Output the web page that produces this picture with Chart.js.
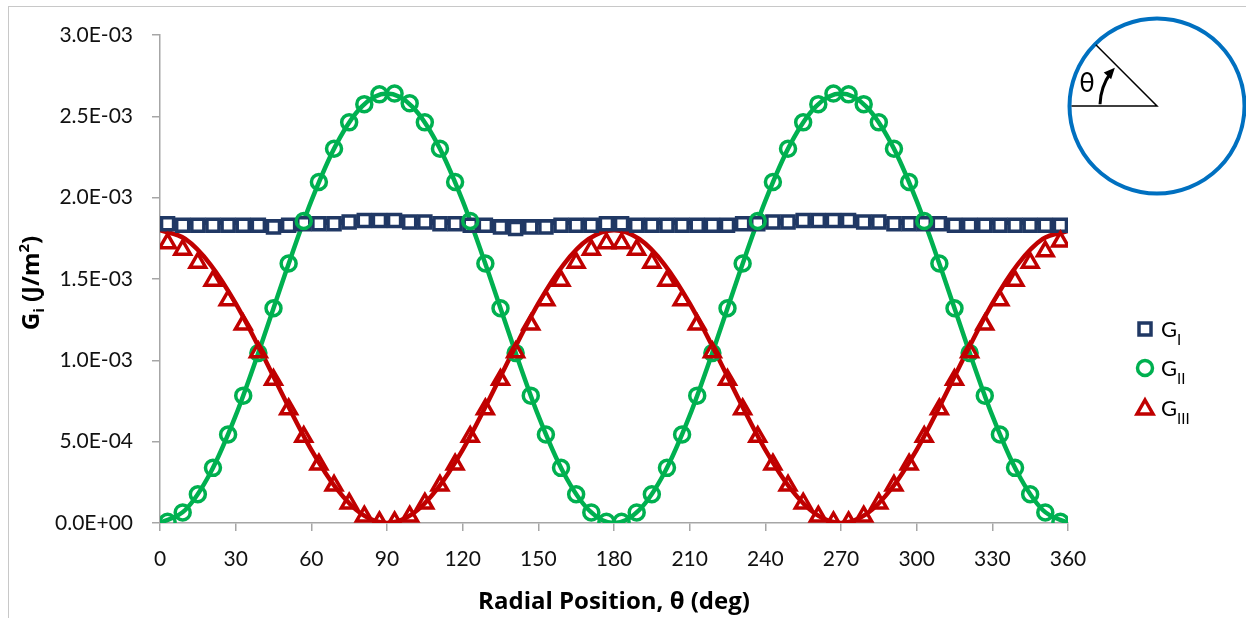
<!DOCTYPE html>
<html>
<head>
<meta charset="utf-8">
<script src="https://cdn.jsdelivr.net/npm/chart.js@4.4.1/dist/chart.umd.min.js"></script>
<style>
  html, body { margin: 0; padding: 0; background: #fff; }
  #wrap { position: relative; width: 1246px; height: 618px; }
</style>
</head>
<body>
<div id="wrap"><canvas id="chartG" width="1246" height="618"></canvas></div>
<script>
// values in units of 1E-03 J/m2
const markerAngles = [3,9,15,21,27,33,39,45,51,57,63,69,75,81,87,93,99,105,111,117,123,129,135,141,147,153,159,165,171,177,
  183,189,195,201,207,213,219,225,231,237,243,249,255,261,267,273,279,285,291,297,303,309,315,321,327,333,339,345,351,357];

const gI = [1.84,1.83,1.83,1.83,1.83,1.83,1.83,1.82,1.83,1.84,1.84,1.84,1.85,1.86,1.86,1.86,1.85,1.85,1.84,1.84,1.83,1.83,1.82,1.81,1.82,1.82,1.83,1.83,1.83,1.84,
  1.84,1.83,1.83,1.83,1.83,1.83,1.83,1.83,1.84,1.84,1.85,1.85,1.86,1.86,1.86,1.86,1.85,1.85,1.84,1.84,1.84,1.84,1.83,1.83,1.83,1.83,1.83,1.83,1.83,1.83];

const gII = [0.007,0.065,0.177,0.339,0.544,0.783,1.045,1.320,1.595,1.857,2.096,2.301,2.463,2.575,2.635,2.640,2.580,2.463,2.301,2.096,1.857,1.595,1.320,1.045,0.783,0.544,0.339,0.177,0.065,0.007,
  0.007,0.065,0.177,0.339,0.544,0.783,1.045,1.320,1.595,1.857,2.096,2.301,2.463,2.575,2.640,2.635,2.575,2.463,2.301,2.096,1.857,1.595,1.320,1.045,0.783,0.544,0.339,0.177,0.065,0.007];

const gIII = [1.72,1.68,1.60,1.49,1.37,1.22,1.05,0.88,0.70,0.53,0.36,0.23,0.12,0.04,0.005,0.005,0.04,0.12,0.23,0.36,0.53,0.70,0.88,1.05,1.22,1.37,1.49,1.60,1.68,1.72,
  1.72,1.68,1.60,1.49,1.37,1.22,1.05,0.88,0.70,0.53,0.36,0.23,0.12,0.04,0.005,0.005,0.04,0.12,0.23,0.36,0.53,0.70,0.88,1.05,1.22,1.37,1.49,1.60,1.67,1.73];

// fitted curves
const curveAngles = [0,10,20,30,40,50,60,70,80,90,100,110,120,130,140,150,160,170,180,
  190,200,210,220,230,240,250,260,270,280,290,300,310,320,330,340,350,360];
const gIICurve = [0,0.080,0.309,0.660,1.091,1.549,1.980,2.331,2.560,2.640,2.560,2.331,1.980,1.549,1.091,0.660,0.309,0.080,0,
  0.080,0.309,0.660,1.091,1.549,1.980,2.331,2.560,2.640,2.560,2.331,1.980,1.549,1.091,0.660,0.309,0.080,0];
const gIIICurve = [1.800,1.746,1.589,1.350,1.056,0.744,0.450,0.211,0.054,0,0.054,0.211,0.450,0.744,1.056,1.350,1.589,1.746,1.800,
  1.746,1.589,1.350,1.056,0.744,0.450,0.211,0.054,0,0.054,0.211,0.450,0.744,1.056,1.350,1.589,1.746,1.795];
const gILineAngles = [0, 360];
const gILine = [1.85, 1.85];

const NAVY = '#203864', GREEN = '#00B050', RED = '#C00000', AXIS = '#A6A6A6';
const FONT = 'Lato, "Open Sans", sans-serif';
const TITLE_FONT = '"Open Sans", Lato, sans-serif';
Chart.defaults.font.family = FONT;

const pts = (xs, ys) => xs.map((x, i) => ({ x: x, y: ys[i] }));

function sciLabel(v) {
  if (Math.abs(v) < 1e-9) return '0.0E+00';
  const parts = (v * 1e-3).toExponential(1).split('e');
  const e = parseInt(parts[1], 10);
  return parts[0] + 'E' + (e < 0 ? '-' : '+') + String(Math.abs(e)).padStart(2, '0');
}

// text with sub/superscript pieces: [text, size, dy]
function drawPieces(ctx, pieces, x, y, weight, align, family) {
  let total = 0;
  pieces.forEach(p => { ctx.font = weight + ' ' + p[1] + 'px ' + family; total += ctx.measureText(p[0]).width; });
  let cx = align === 'center' ? x - total / 2 : x;
  pieces.forEach(p => {
    ctx.font = weight + ' ' + p[1] + 'px ' + family;
    ctx.fillText(p[0], cx, y + p[2]);
    cx += ctx.measureText(p[0]).width;
  });
}

const decorPlugin = {
  id: 'decor',
  beforeDraw(chart) {
    const ctx = chart.ctx;
    ctx.save();
    ctx.fillStyle = '#fff';
    ctx.fillRect(0, 0, chart.width, chart.height);
    ctx.strokeStyle = '#C8C8C8';
    ctx.lineWidth = 1;
    ctx.strokeRect(8.5, 6.5, chart.width + 10, chart.height + 10);
    ctx.restore();
  },
  afterDraw(chart) {
    const ctx = chart.ctx;
    ctx.save();
    ctx.fillStyle = '#000';
    ctx.textBaseline = 'alphabetic';

    // y axis title
    ctx.save();
    ctx.translate(39, 283);
    ctx.rotate(-Math.PI / 2);
    drawPieces(ctx, [['G', 24, 0], ['i', 15, 5], [' (J/m', 24, 0], ['2', 15, -10], [')', 24, 0]], 0, 0, 'bold', 'center', TITLE_FONT);
    ctx.restore();

    // legend
    const lx = 1145, rows = [329, 368, 408];
    ctx.lineWidth = 3.5;
    ctx.strokeStyle = NAVY; ctx.fillStyle = '#fff';
    ctx.fillRect(lx - 6, rows[0] - 6, 12, 12);
    ctx.strokeRect(lx - 6, rows[0] - 6, 12, 12);
    ctx.strokeStyle = GREEN;
    ctx.beginPath(); ctx.arc(lx, rows[1], 7.5, 0, Math.PI * 2); ctx.stroke();
    ctx.strokeStyle = RED;
    ctx.beginPath();
    ctx.moveTo(lx, rows[2] - 8); ctx.lineTo(lx + 8, rows[2] + 6); ctx.lineTo(lx - 8, rows[2] + 6);
    ctx.closePath(); ctx.stroke();
    ctx.fillStyle = '#000';
    const subs = ['I', 'II', 'III'];
    rows.forEach((ry, i) => drawPieces(ctx, [['G', 22, 0], [subs[i], 15, 8]], 1161, ry + 8, 'normal', 'left', FONT));

    // inset: circle with angle definition
    const cx = 1157, cy = 106, r = 87.5;
    ctx.strokeStyle = '#0070C0';
    ctx.lineWidth = 4;
    ctx.beginPath(); ctx.arc(cx, cy, r, 0, Math.PI * 2); ctx.stroke();
    ctx.strokeStyle = '#000';
    ctx.lineWidth = 1.5;
    ctx.beginPath();
    ctx.moveTo(cx - r + 2, cy); ctx.lineTo(cx, cy);
    ctx.lineTo(cx + Math.cos(Math.PI * 1.25) * (r - 1), cy + Math.sin(Math.PI * 1.25) * (r - 1));
    ctx.stroke();
    const ar = 57, a0 = Math.PI + 0.03, a1 = Math.PI * 1.2;
    ctx.lineWidth = 3;
    ctx.beginPath(); ctx.arc(cx, cy, ar, a0, a1); ctx.stroke();
    const ang = Math.PI * 1.235;
    const hx = cx + Math.cos(ang) * ar, hy = cy + Math.sin(ang) * ar;
    const tx = -Math.sin(ang), ty = Math.cos(ang);
    const nx = Math.cos(ang), ny = Math.sin(ang);
    ctx.fillStyle = '#000';
    ctx.beginPath();
    ctx.moveTo(hx, hy);
    ctx.lineTo(hx - tx * 11 + nx * 5, hy - ty * 11 + ny * 5);
    ctx.lineTo(hx - tx * 11 - nx * 5, hy - ty * 11 - ny * 5);
    ctx.closePath(); ctx.fill();
    ctx.font = '26px ' + FONT;
    ctx.textAlign = 'center';
    ctx.fillText('θ', 1087, 92);
    ctx.restore();
  }
};

new Chart(document.getElementById('chartG'), {
  type: 'scatter',
  data: {
    datasets: [
      { label: 'GIII', data: pts(markerAngles, gIII), pointStyle: 'triangle', pointRadius: 9, borderWidth: 3.5,
        borderColor: RED, backgroundColor: 'rgba(0,0,0,0)', order: 1 },
      { label: 'GII', data: pts(markerAngles, gII), pointStyle: 'circle', pointRadius: 7.5, borderWidth: 3.5,
        borderColor: GREEN, backgroundColor: 'rgba(0,0,0,0)', order: 2 },
      { label: 'GI', data: pts(markerAngles, gI), pointStyle: 'rect', pointRadius: 8.5, borderWidth: 3.5,
        borderColor: NAVY, backgroundColor: '#fff', order: 3 },
      { label: 'GIII fit', data: pts(curveAngles, gIIICurve), showLine: true, pointRadius: 0, borderWidth: 4.5,
        borderColor: RED, cubicInterpolationMode: 'monotone', order: 4 },
      { label: 'GII fit', data: pts(curveAngles, gIICurve), showLine: true, pointRadius: 0, borderWidth: 4.5,
        borderColor: GREEN, cubicInterpolationMode: 'monotone', order: 5 },
      { label: 'GI fit', data: pts(gILineAngles, gILine), showLine: true, pointRadius: 0, borderWidth: 6,
        borderColor: NAVY, order: 6 }
    ]
  },
  options: {
    responsive: false,
    animation: false,
    layout: { padding: { left: 0, top: 35, right: 178, bottom: 0 } },
    plugins: { legend: { display: false }, tooltip: { enabled: false } },
    scales: {
      x: {
        type: 'linear', min: 0, max: 360,
        afterFit: s => { s.height = 95; },
        border: { color: AXIS, width: 1.5 },
        grid: { drawOnChartArea: false, tickLength: 8, color: AXIS, lineWidth: 1.5 },
        ticks: { stepSize: 30, padding: 16, color: '#111', font: { size: 21 } },
        title: { display: true, text: 'Radial Position, θ (deg)', color: '#000',
          font: { family: TITLE_FONT, size: 24, weight: 'bold' }, padding: { top: 0, bottom: 1 } }
      },
      y: {
        min: 0, max: 3,
        afterFit: s => { s.width = 160; },
        border: { color: AXIS, width: 1.5 },
        grid: { drawOnChartArea: false, tickLength: 8, color: AXIS, lineWidth: 1.5 },
        ticks: { stepSize: 0.5, padding: 19, color: '#111', font: { size: 21 }, callback: v => sciLabel(v) }
      }
    }
  },
  plugins: [decorPlugin]
});
</script>
</body>
</html>
